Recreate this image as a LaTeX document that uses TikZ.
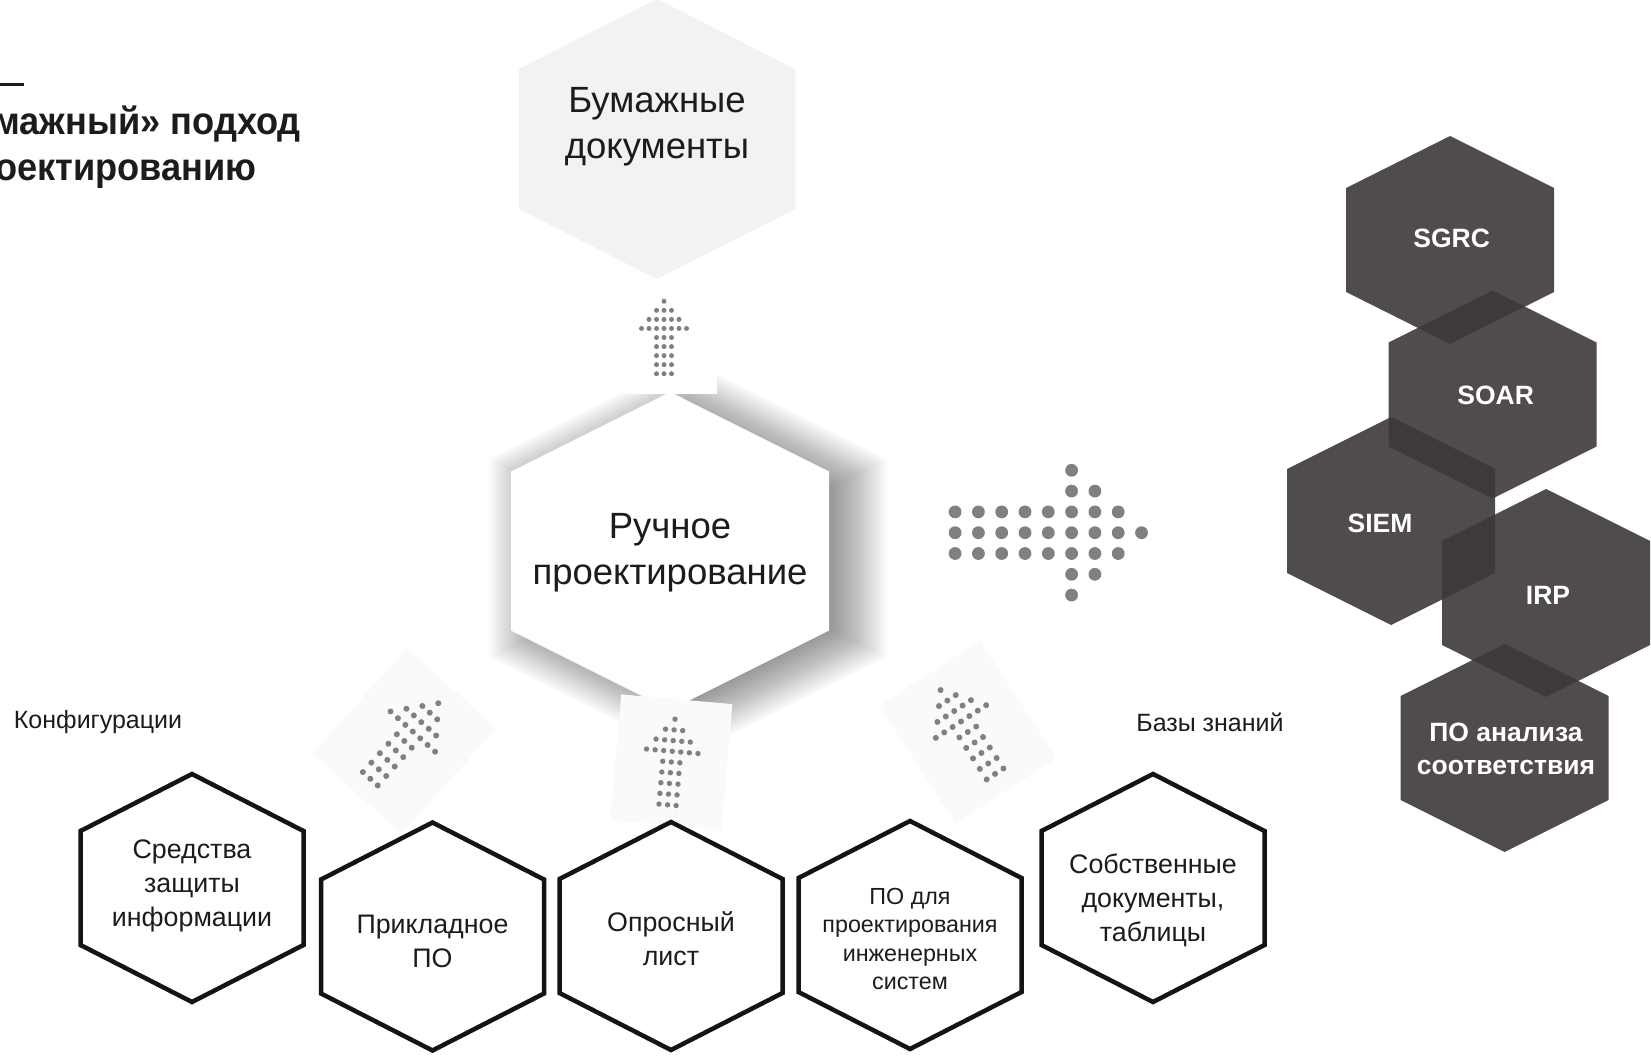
\documentclass[tikz,border=0pt]{standalone}
\usepackage{fontspec}
\setmainfont{Liberation Sans}
\newfontfamily\titlefont[FakeStretch=0.94]{Liberation Sans}
\definecolor{darkhex}{RGB}{62,56,58}
\definecolor{lighthex}{RGB}{242,242,242}
\definecolor{dotgray}{RGB}{128,128,128}
\definecolor{txt}{RGB}{28,28,28}
\definecolor{faintbox}{RGB}{250,250,250}
% #1 style, #2 cx, #3 cy, #4 half width, #5 half height
\newcommand\hexshape[5]{%
  \path[#1] ({#2},{#3-(#5)}) -- ({#2+(#4)},{#3-(#5)/2}) -- ({#2+(#4)},{#3+(#5)/2}) -- ({#2},{#3+(#5)})
    -- ({#2-(#4)},{#3+(#5)/2}) -- ({#2-(#4)},{#3-(#5)/2}) -- cycle;}
% #1 cx, #2 cy, #3 rotation, #4 along, #5 across, #6 dot radius, #7 box colour
\newcommand\dotarrow[7]{%
  \begin{scope}[shift={(#1,#2)}, rotate=#3]
    \fill[#7] ({-3*#5-30},{-4*#4-20}) rectangle ({3*#5+30},{4*#4+20});
    \foreach \k/\n in {1/1,2/3,3/5,4/7,5/3,6/3,7/3,8/3,9/3}{
      \foreach \j in {1,...,\n}{
        \fill[dotgray] ({(\j-(\n+1)/2)*#5},{(\k-5)*#4}) circle[radius=#6pt];
      }
    }
  \end{scope}}
\tikzset{
  bigtxt/.style={align=center, text=txt, font=\fontsize{36.5}{46}\selectfont},
  midtxt/.style={align=center, text=txt, font=\fontsize{26.8}{34}\selectfont},
  smtxt/.style={align=center, text=txt, font=\fontsize{23.3}{28.5}\selectfont},
  lbltxt/.style={text=txt, font=\fontsize{25}{28}\selectfont},
  darktxt/.style={align=center, text=white, font=\fontsize{26.5}{33}\selectfont\bfseries},
  titletxt/.style={text=txt, font=\fontsize{38.5}{44}\titlefont\bfseries, inner sep=0pt},
  outlinehex/.style={draw=black!92, line width=4.5pt, fill=white, line join=miter},
  darkfill/.style={fill=darkhex, fill opacity=0.9},
  shadowstep/.style={fill=black, fill opacity=0.015},
}
\begin{document}
\begin{tikzpicture}[x=1pt, y=-1pt]
\useasboundingbox (0,0) rectangle (1651,1056);
\clip (0,0) rectangle (1651,1056);
\fill[white] (0,0) rectangle (1651,1056);

% title (clipped at the left edge, as in the reference)
\draw[line width=3pt, txt] (0,85) -- (24,85);
\node[titletxt, anchor=base east] (title1) at (301,135) {«Бумажный» подход};
\node[titletxt, anchor=base east] (title2) at (257,181) {к проектированию};

% top hexagon
\hexshape{fill=lighthex}{657}{139}{138}{140}
\node[bigtxt] (paper) at (657,127) {Бумажные\\документы};

% central hexagon with soft shadow
\foreach \i in {0,...,27}{
  \hexshape{shadowstep}{688}{558}{159+40-2*\i}{159+40-2*\i}
}
\hexshape{fill=white}{670}{551}{159}{159}
\node[bigtxt] (manual) at (670,553) {Ручное\\проектирование};

% dotted arrows
\dotarrow{664}{337.5}{0}{9.05}{7.5}{2.5}{white}
\dotarrow{1048.3}{532.7}{-90}{23.3}{20.8}{6.4}{white}
\dotarrow{404.3}{741}{-42}{12.7}{10}{3}{faintbox}
\dotarrow{671.3}{762}{-5}{10.75}{8.6}{2.7}{faintbox}
\dotarrow{967.8}{732}{33}{12.5}{10}{3}{faintbox}

% side labels
\node[lbltxt] (conf) at (98,722) {Конфигурации};
\node[lbltxt] (kb) at (1210,722) {Базы знаний};

% bottom hexagons
\hexshape{outlinehex}{192}{888}{111.5}{114}
\hexshape{outlinehex}{432.5}{936.5}{111.5}{114}
\hexshape{outlinehex}{671}{936}{111.5}{114}
\hexshape{outlinehex}{910}{935}{111.5}{114}
\hexshape{outlinehex}{1153}{888}{111.5}{114}
\node[midtxt] (szi) at (192,886) {Средства\\защиты\\информации};
\node[midtxt] (app) at (432.5,941.5) {Прикладное\\ПО};
\node[midtxt] (quest) at (671,939) {Опросный\\лист};
\node[smtxt] (cad) at (910,939) {ПО для\\проектирования\\инженерных\\систем};
\node[midtxt] (own) at (1153,900) {Собственные\\документы,\\таблицы};

% dark hexagons
\hexshape{darkfill}{1450}{240}{104}{104}
\hexshape{darkfill}{1492.5}{394.5}{104}{104}
\hexshape{darkfill}{1391}{521}{104}{104}
\hexshape{darkfill}{1546}{593}{104}{104}
\hexshape{darkfill}{1504.7}{748}{104}{104}
\node[darktxt] (sgrc) at (1451.7,238) {SGRC};
\node[darktxt] (soar) at (1495.7,395) {SOAR};
\node[darktxt] (siem) at (1380,523) {SIEM};
\node[darktxt] (irp) at (1548,595) {IRP};
\node[darktxt] (comp) at (1506,749) {ПО анализа\\соответствия};
\end{tikzpicture}
\end{document}
